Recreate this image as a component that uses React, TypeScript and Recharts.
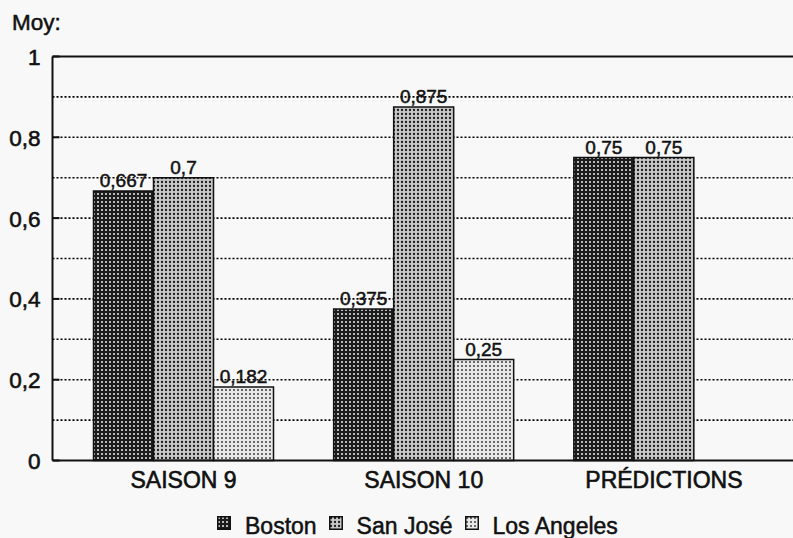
import React from 'react';
import { BarChart, Bar, XAxis, YAxis, CartesianGrid, ReferenceLine, LabelList } from 'recharts';

const categories = ['SAISON 9', 'SAISON 10', 'PRÉDICTIONS'];
const bostonValues = [0.667, 0.375, 0.75];
const sanJoseValues = [0.7, 0.875, 0.75];
const losAngelesValues = [0.182, 0.25, 0];
const yTicks = [0, 0.2, 0.4, 0.6, 0.8, 1];
const gridValues = [0.1, 0.2, 0.3, 0.4, 0.5, 0.6, 0.7, 0.8, 0.9];
const seriesNames = ['Boston', 'San José', 'Los Angeles'];
const patternIds = ['patBoston', 'patSanJose', 'patLosAngeles'];

const data = categories.map((c, i) => ({
  name: c,
  boston: bostonValues[i],
  sanJose: sanJoseValues[i],
  losAngeles: losAngelesValues[i],
}));

const FONT = '"Liberation Sans", Arial, sans-serif';
const INK = '#111';
const fmt = (v: any) => String(v).replace('.', ',');

const YTick = (props: any) => {
  const { x, y, payload } = props;
  return (
    <g>
      <line x1={x + 12} x2={x + 19} y1={y} y2={y} stroke={INK} strokeWidth={2} />
      <text x={x} y={y} dy="0.38em" textAnchor="end" fontFamily={FONT} fontSize={22.5} fill={INK} stroke={INK} strokeWidth={0.6}>
        {fmt(payload.value)}
      </text>
    </g>
  );
};

const XTick = (props: any) => {
  const { x, y, payload } = props;
  return (
    <text x={x} y={y} dy="0.71em" textAnchor="middle" fontFamily={FONT} fontSize={23} fill={INK} stroke={INK} strokeWidth={0.6}>
      {payload.value}
    </text>
  );
};

const Patterns = () => (
  <svg width={0} height={0} style={{ position: 'absolute' }}>
    <defs>
      <pattern id="patBoston" width="4" height="4" patternUnits="userSpaceOnUse">
        <rect width="4" height="4" fill="#1c1c1c" />
        <circle cx="2" cy="2" r="1" fill="#eee" />
      </pattern>
      <pattern id="patSanJose" width="4" height="4" patternUnits="userSpaceOnUse">
        <rect width="4" height="4" fill="#c8c8c8" />
        <circle cx="2" cy="2" r="1.15" fill="#1a1a1a" />
      </pattern>
      <pattern id="patLosAngeles" width="4" height="4" patternUnits="userSpaceOnUse">
        <rect width="4" height="4" fill="#e8e8e8" />
        <circle cx="2" cy="2" r="0.95" fill="#333" />
      </pattern>
    </defs>
  </svg>
);

const labelStyle = { fontFamily: FONT, fontSize: 19, fill: INK, stroke: INK, strokeWidth: 0.5 };

export default function App() {
  return (
    <div style={{ position: 'absolute', left: 0, top: 0, width: 793, height: 538, background: '#f8f8f8', fontFamily: FONT, overflow: 'hidden' }}>
      <Patterns />
      <div style={{ position: 'absolute', left: 12, top: 10, fontSize: 22.5, color: INK, lineHeight: 'normal', WebkitTextStroke: '0.5px #111' }}>Moy:</div>
      <BarChart
        width={793}
        height={538}
        data={data}
        margin={{ top: 56.5, right: 0, bottom: 47.5, left: 0 }}
        barCategoryGap={30}
        barGap={0}
      >
        <CartesianGrid
          vertical={false}
          horizontalValues={gridValues}
          stroke="#000"
          strokeWidth={1.6}
          strokeDasharray="2 2"
        />
        <ReferenceLine y={1} stroke={INK} strokeWidth={2} />
        <XAxis
          dataKey="name"
          padding={{ left: 11, right: 9 }}
          tickSize={0}
          tickMargin={11}
          axisLine={{ stroke: INK, strokeWidth: 2 }}
          tick={<XTick />}
        />
        <YAxis
          width={52.5}
          domain={[0, 1]}
          ticks={yTicks}
          tickSize={0}
          tickMargin={12}
          axisLine={{ stroke: INK, strokeWidth: 2 }}
          tick={<YTick />}
        />
        <Bar dataKey="boston" name={seriesNames[0]} fill={`url(#${patternIds[0]})`} stroke={INK} strokeWidth={1.5} isAnimationActive={false}>
          <LabelList dataKey="boston" position="top" offset={4} formatter={fmt} style={labelStyle} />
        </Bar>
        <Bar dataKey="sanJose" name={seriesNames[1]} fill={`url(#${patternIds[1]})`} stroke={INK} strokeWidth={1.5} isAnimationActive={false}>
          <LabelList dataKey="sanJose" position="top" offset={4} formatter={fmt} style={labelStyle} />
        </Bar>
        <Bar dataKey="losAngeles" name={seriesNames[2]} fill={`url(#${patternIds[2]})`} stroke={INK} strokeWidth={1.5} isAnimationActive={false}>
          <LabelList dataKey="losAngeles" position="top" offset={4} formatter={fmt} style={labelStyle} />
        </Bar>
      </BarChart>
      <div style={{ position: 'absolute', left: 217, top: 514.5, height: 23, display: 'flex', alignItems: 'flex-start' }}>
        {seriesNames.map((n, i) => (
          <div key={n} style={{ display: 'flex', alignItems: 'flex-start', marginRight: i < 2 ? 12 : 0 }}>
            <svg width={14} height={14} style={{ marginRight: 14, marginTop: 1.5 }}>
              <rect x={0.75} y={0.75} width={12.5} height={12.5} fill={`url(#${patternIds[i]})`} stroke={INK} strokeWidth={1.5} />
            </svg>
            <span style={{ fontSize: 23, lineHeight: '23px', color: INK, WebkitTextStroke: '0.5px #111' }}>{n}</span>
          </div>
        ))}
      </div>
    </div>
  );
}
